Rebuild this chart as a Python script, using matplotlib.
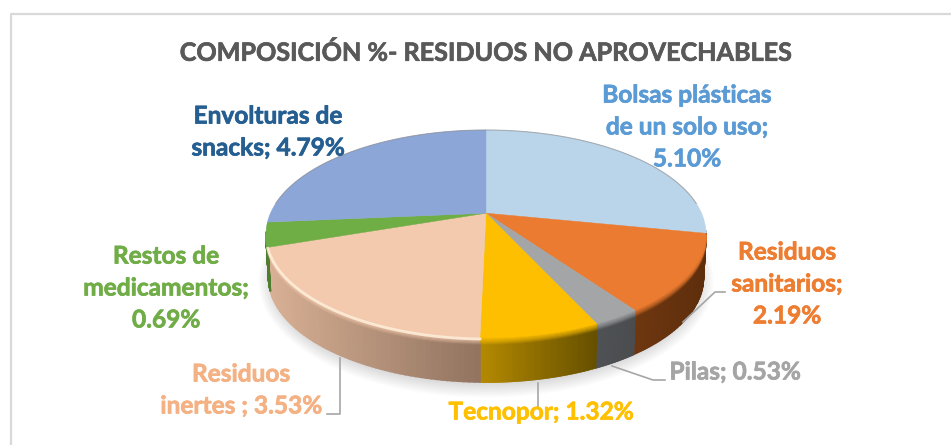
import numpy as np
from matplotlib import pyplot as plt
from matplotlib import patheffects as pe

labels = ['Bolsas plásticas\nde un solo uso;\n5.10%', 'Residuos\nsanitarios;\n2.19%', 'Pilas; 0.53%',
          'Tecnopor; 1.32%', 'Residuos\ninertes ; 3.53%', 'Restos de\nmedicamentos;\n0.69%',
          'Envolturas de\nsnacks; 4.79%']
values = [5.10, 2.19, 0.53, 1.32, 3.53, 0.69, 4.79]
top_colors = ['#BAD4EA', '#EA7B30', '#A3A5A7', '#FDBF00', '#F4CAAE', '#6FAD45', '#8CA6D8']
side_left = ['#A9C4DC', '#6E3710', '#4F5255', '#B58A00', '#D8B095', '#4F7D30', '#6F87B5']
side_right = ['#A9C4DC', '#5E2E0C', '#4A4C4E', '#665000', '#927460', '#4F7D30', '#6F87B5']
text_colors = ['#5B9BD5', '#ED7D31', '#A5A5A5', '#FFC000', '#F4B183', '#70AD47', '#255E91']

# ellipse of the top face in pixels
cx, cy, a, b = 486, 234, 220, 104
tilt = 0.2
depth = 44


def project(theta, r=1.0):
    # circle -> tilted ellipse, centre of the pie ends up above the ellipse centre
    u = r * np.sin(theta)
    v = r * np.cos(theta)
    k = 1 + tilt * v
    x = u * np.sqrt(1 - tilt ** 2) / k
    y = (v + tilt) / k
    return cx + a * x, cy - b * y


def hexrgb(c):
    return np.array([int(c[i:i + 2], 16) / 255 for i in (1, 3, 5)])


fig = plt.figure(figsize=(9.51, 4.45), dpi=100)
ax = fig.add_axes([0, 0, 1, 1])
ax.set_xlim(0, 951)
ax.set_ylim(445, 0)
ax.axis('off')

# chart frame, right side runs off the picture
ax.plot([951, 10.5, 10.5], [13.5, 13.5, 445], color='#D9D9D9', lw=1.6)

# soft shadow below the pie
for i in range(14):
    s = np.linspace(0, 2 * np.pi, 200)
    ax.fill(cx + (a - 8 + i * 1.2) * np.cos(s), cy + depth + 3 + (b - 3 + i * 1.2) * np.sin(s),
            color='black', alpha=0.012, lw=0)

edges = np.cumsum([0] + values) / sum(values) * 2 * np.pi

# side wall, wide edges hide the seams between strips
for i in range(len(values)):
    th = np.linspace(edges[i], edges[i + 1], 60)
    x, y = project(th)
    for j in range(len(th) - 1):
        if y[j] < cy - 2 and y[j + 1] < cy - 2:
            continue
        t = (x[j] - x.min()) / max(x.max() - x.min(), 1)
        col = hexrgb(side_left[i]) * (1 - t) + hexrgb(side_right[i]) * t
        x2 = cx + (x[[j, j + 1]] - cx) * 0.988
        ax.fill([x[j], x[j + 1], x2[1], x2[0]], [y[j], y[j + 1], y[j + 1] + depth, y[j] + depth],
                color=col, lw=1.2, zorder=2)

# bevel between wall and top face
for i in range(len(values)):
    th = np.linspace(edges[i], edges[i + 1], 120)
    x, y = project(th)
    front = y > cy - 2
    for k in range(7):
        ax.plot(x[front], y[front] + k, color=top_colors[i], lw=1.2, alpha=0.75 - k * 0.11,
                solid_capstyle='butt', zorder=3)

# top face
for i in range(len(values)):
    th = np.linspace(edges[i], edges[i + 1], 120)
    x, y = project(th)
    ax.fill(np.r_[project(0, 0)[0], x], np.r_[project(0, 0)[1], y], color=top_colors[i], lw=0.3, zorder=4)

# bright rim on the peach slice
th = np.linspace(edges[4], edges[5], 120)
x, y = project(th)
ax.plot(x, y + 1, color='#FFF0DC', lw=2, alpha=0.85, zorder=5)

# back edge shade
s = np.linspace(-np.pi / 2 + 0.1, np.pi / 2 - 0.1, 200)
ax.plot(*project(s), color='#8C8C8C', lw=0.8, alpha=0.6, zorder=5)

# leader lines
ax.plot([683, 715, 725], [322, 292, 292], color='#A6A6A6', lw=1.2, zorder=5)
ax.plot([612, 653, 665], [366, 380, 380], color='#A6A6A6', lw=1.2, zorder=5)
ax.plot([538, 538], [383, 407], color='#A6A6A6', lw=1.2, zorder=5)
ax.plot([340, 340, 327], [358, 414, 414], color='#A6A6A6', lw=1.2, zorder=5)

# texts, thin stroke because Lato bold is lighter than the original face
title = ax.text(486, 53, 'COMPOSICIÓN %- RESIDUOS NO APROVECHABLES', color='#595959', fontsize=18.1,
                fontweight='bold', family='Lato', ha='center', va='center')
title.set_path_effects([pe.withStroke(linewidth=0.5, foreground='#595959')])
label_pos = [(687, 127), (787, 284), (735, 372), (541, 412), (241, 390), (166, 288), (268, 132)]
for i in range(len(values)):
    txt = ax.text(label_pos[i][0], label_pos[i][1], labels[i], color=text_colors[i], fontsize=17.6,
                  fontweight='bold', family='Lato', ha='center', va='center', linespacing=1.47, zorder=6)
    txt.set_path_effects([pe.withStroke(linewidth=0.5, foreground=text_colors[i])])

fig.savefig('out.png', dpi=100)
